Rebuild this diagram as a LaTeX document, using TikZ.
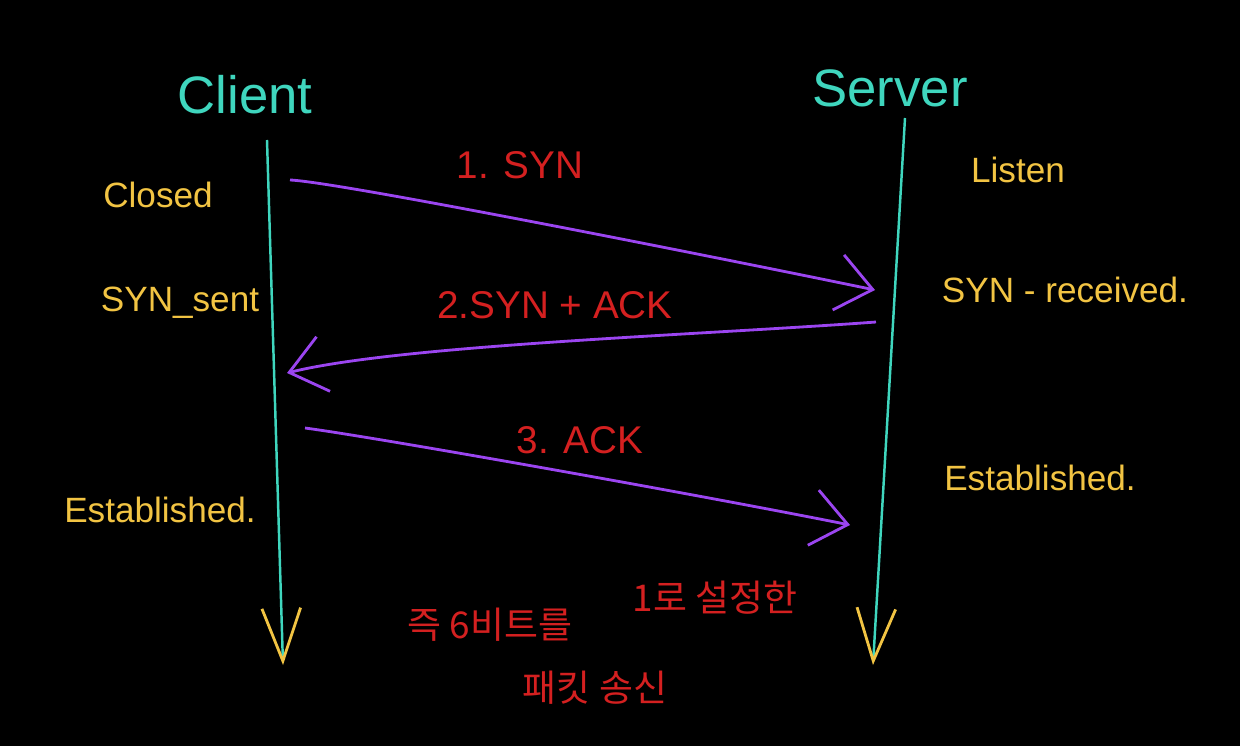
\documentclass[tikz,border=0pt]{standalone}
\usepackage{fontspec}
\setmainfont{Liberation Sans}
\newfontfamily\kr{Noto Sans CJK KR}
\usetikzlibrary{arrows.meta, positioning}
\definecolor{lifecyan}{HTML}{3FD6BE}
\definecolor{statey}{HTML}{F2C443}
\definecolor{msgred}{HTML}{D42020}
\definecolor{msgpurple}{HTML}{9B45F0}

\begin{document}
\begin{tikzpicture}[x=0.02cm, y=-0.02cm,
  host/.style={text=lifecyan, font=\fontsize{30}{32}\selectfont},
  state/.style={text=statey, font=\fontsize{20}{22}\selectfont},
  msg/.style={text=msgred, font=\fontsize{22}{24}\selectfont},
  note/.style={text=msgred, font=\kr\fontsize{21}{24}\selectfont},
  lifeline/.style={draw=lifecyan, line width=1.4pt, -{Straight Barb[color=statey, length=30pt, width=22pt, line width=1.6pt]}},
  packet/.style={draw=msgpurple, line width=1.6pt, -{Straight Barb[length=20pt, width=32pt]}}]
\useasboundingbox (0,0) rectangle (1240,746);
\fill[black] (0,0) rectangle (1240,746);

% hosts and lifelines
\node[host] (client) at (245,95) {Client};
\node[host] (server) at (890,88) {Server};
\coordinate (c top) at (267,140);
\coordinate (c end) at (283,665);
\coordinate (s top) at (905,118);
\coordinate (s end) at (873,665);
\draw[lifeline] (c top) -- (c end);
\draw[lifeline] (s top) -- (s end);

% states
\node[state] (closed) at (158,195) {Closed};
\node[state] (synsent) at (180,303) {SYN\_sent};
\node[state] (cest) at (160,510) {Established.};
\node[state] (listen) at (1018,170) {Listen};
\node[state] (synrcvd) at (1065,290) {SYN - received.};
\node[state] (sest) at (1040,478) {Established.};

% handshake
\node[msg] (syn) at (520,165) {1. SYN};
\node[msg] (synack) at (555,305) {2.SYN + ACK};
\node[msg] (ack) at (580,440) {3. ACK};
\coordinate (c1) at (290,180);
\coordinate (s1) at (875,290);
\coordinate (s2) at (876,322);
\coordinate (c2) at (287,373);
\coordinate (c3) at (305,428);
\coordinate (s3) at (850,525);
\draw[packet] (c1) .. controls (340,182) and (740,262) .. (s1);
\draw[packet] (s2) .. controls (700,335) and (400,345) .. (c2);
\draw[packet] (c3) .. controls (380,438) and (700,495) .. (s3);

% note
\node[note] (note1) at (490,625) {즉 6비트를};
\node[note] (note2) at (715,598) {1로 설정한};
\node[note] (note3) at (595,688) {패킷 송신};
\end{tikzpicture}
\end{document}
